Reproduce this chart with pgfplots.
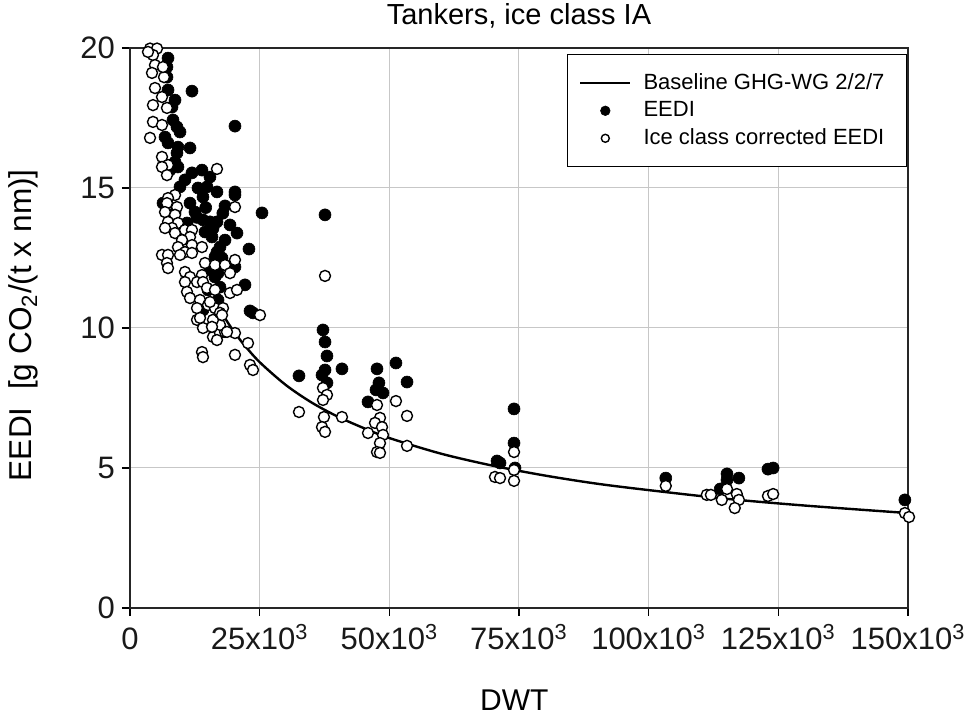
\documentclass[border=0pt]{standalone}
\usepackage{fontspec}
\setmainfont{Liberation Sans}
\usepackage{pgfplots}
\usepackage{pgfplotstable}
\pgfplotsset{compat=1.18}

\pgfplotstableread{
x y
7.33 19.64
7.13 19.32
7.13 18.96
11.95 18.46
8.68 18.14
8.10 17.89
8.29 17.43
9.06 17.18
9.64 17.00
6.75 16.82
7.33 16.61
11.57 16.43
9.06 16.25
8.68 15.93
11.95 15.54
13.88 15.64
15.42 15.39
9.64 15.04
13.11 15.00
14.85 15.04
16.77 14.86
20.24 14.86
20.24 14.75
6.36 14.46
11.57 14.46
14.07 14.68
18.32 14.36
25.45 14.11
14.07 13.86
15.42 13.79
16.77 13.79
19.28 13.68
20.63 13.39
8.68 14.11
20.24 17.21
10.99 13.75
22.94 12.82
17.35 12.89
16.77 12.71
17.74 12.50
20.24 12.18
16.39 11.82
16.97 11.96
22.17 11.54
16.97 11.00
23.14 10.61
23.71 10.54
8.29 13.96
15.81 13.25
16.39 12.54
17.35 11.46
14.07 10.64
9.64 13.39
7.33 18.50
9.25 16.46
9.25 15.75
7.71 15.64
10.60 15.29
12.53 14.14
14.46 13.43
15.42 12.07
18.32 13.14
15.04 11.36
14.60 14.30
17.90 14.10
12.90 13.95
16.00 13.55
37.60 14.04
37.21 9.93
37.60 9.50
37.98 9.00
37.60 8.50
37.02 8.32
37.98 8.04
32.58 8.29
40.87 8.54
47.62 8.54
51.28 8.75
53.41 8.07
48.00 8.04
47.43 7.79
48.78 7.68
45.89 7.36
74.04 7.11
74.04 5.89
70.76 5.25
71.34 5.18
74.23 5.00
103.3 4.64
115.1 4.79
117.4 4.64
113.8 4.25
115.1 4.57
123.0 4.96
124.0 5.00
149.4 3.86
}\eedi

\pgfplotstableread{
x y
3.86 19.98
5.21 19.98
4.43 19.75
3.47 19.86
4.82 19.39
4.24 19.11
6.56 18.96
6.36 19.32
4.82 18.57
6.17 18.25
4.43 17.96
7.13 17.86
4.43 17.36
6.17 17.25
3.86 16.79
6.17 16.11
7.33 15.82
6.17 15.75
7.13 15.46
16.77 15.68
8.68 14.75
7.33 14.64
7.13 14.46
9.06 14.32
6.75 14.14
8.68 14.04
7.33 13.79
9.25 13.75
8.10 13.57
8.68 13.39
6.75 13.57
10.60 13.50
11.95 13.50
11.57 13.25
10.03 13.14
9.25 12.89
11.95 12.96
13.88 12.89
6.17 12.61
7.33 12.61
7.13 12.32
7.33 12.14
10.60 12.71
9.64 12.61
11.95 12.68
14.46 12.32
16.39 12.25
18.32 12.25
10.60 12.00
11.57 11.82
13.88 11.89
10.60 11.64
12.92 11.64
14.07 11.64
10.99 11.29
11.57 11.07
14.85 11.43
16.39 11.36
13.50 11.00
12.92 10.71
15.04 10.82
16.39 10.71
17.93 10.71
19.28 11.25
20.63 11.36
20.24 14.32
20.24 12.43
19.28 11.96
25.06 10.46
20.24 9.82
22.75 9.46
13.88 9.14
14.07 8.96
20.24 9.04
23.14 8.68
23.71 8.50
12.92 10.29
14.07 10.00
16.00 9.68
17.35 9.82
16.77 9.57
18.32 9.86
17.35 10.11
16.00 10.29
17.35 10.54
15.42 10.93
17.74 10.46
13.50 10.36
15.81 10.04
18.70 9.86
37.60 11.86
37.21 7.86
37.98 7.61
37.21 7.43
37.40 6.82
37.02 6.46
37.60 6.29
32.58 7.00
40.87 6.82
47.62 7.25
48.20 6.79
47.24 6.61
45.89 6.25
48.59 6.46
48.78 6.18
48.20 5.89
47.62 5.57
48.20 5.54
51.28 7.39
53.41 6.86
53.41 5.79
74.04 5.57
70.37 4.68
71.34 4.64
74.04 4.93
74.04 4.54
103.3 4.36
111.2 4.04
112.0 4.04
114.1 3.86
115.1 4.25
117.0 4.07
117.4 3.86
116.6 3.57
123.0 4.00
124.0 4.07
149.4 3.39
150.2 3.25
}\corrected

\pgfplotstableread{
x y
17 10.77
18.5 10.30
20 9.88
22 9.40
25 8.78
30 7.97
35 7.34
40 6.84
45 6.43
50 6.07
60 5.51
70 5.08
80 4.73
90 4.44
100 4.21
115 3.90
130 3.66
150 3.39
}\baseline

\begin{document}
\begin{tikzpicture}
\begin{axis}[
  at={(0,0)}, anchor=south west,
  scale only axis, width=389pt, height=280pt,
  xmin=0, xmax=150, ymin=0, ymax=20,
  clip=false,
  axis line style={line width=0.8pt, black!85},
  xtick={0,25,50,75,100,125,150},
  xticklabels={0, 25x10\textsuperscript{3}, 50x10\textsuperscript{3}, 75x10\textsuperscript{3}, 100x10\textsuperscript{3}, 125x10\textsuperscript{3}, 150x10\textsuperscript{3}},
  ytick={0,5,10,15,20},
  /pgf/number format/assume math mode=true,
  tick align=outside, xtick pos=left, ytick pos=left,
  major tick length=4pt, tick style={line width=0.6pt, black},
  grid=major, major grid style={line width=0.5pt, color=black!22},
  ticklabel style={font=\fontsize{15.5}{18}\selectfont, black!90},
  xticklabel style={anchor=base, yshift=-17pt},
  title={Tankers, ice class IA},
  title style={at={(0.5,1)}, anchor=base, yshift=5.5pt, font=\fontsize{14.5}{17}\selectfont},
  xlabel={DWT},
  xlabel style={at={(0.494,-0.164)}, anchor=center, font=\fontsize{15}{18}\selectfont},
  ylabel={EEDI\ \ [g CO\textsubscript{2}/(t x nm)]},
  ylabel style={at={(-0.137,0.505)}, anchor=center, font=\fontsize{15.8}{19}\selectfont},
  legend cell align=left,
  legend style={at={(0.9987,0.989)}, anchor=north east, draw=black, line width=0.6pt,
    font=\fontsize{11}{13}\selectfont, inner xsep=6pt, inner ysep=7.5pt, row sep=0.5pt,
    column sep=4pt},
]
\addplot[black, line width=1.2pt, smooth,
  legend image code/.code={\draw[black, line width=1.2pt] (0pt,0pt) -- (25pt,0pt);}]
  table[x=x, y=y] {\baseline};
\addlegendentry{Baseline GHG-WG 2/2/7}
\addplot[only marks, mark=*, mark size=3pt, draw=black, fill=black, line width=0.3pt,
  legend image code/.code={\draw[mark size=2.4pt, mark repeat=2, mark phase=2] plot coordinates {(0pt,0pt) (12.5pt,0pt) (25pt,0pt)};}]
  table[x=x, y=y] {\eedi};
\addlegendentry{EEDI}
\addplot[only marks, mark=*, mark size=2.75pt, draw=black, fill=white, line width=0.7pt,
  legend image code/.code={\draw[mark size=2pt, mark repeat=2, mark phase=2] plot coordinates {(0pt,0pt) (12.5pt,0pt) (25pt,0pt)};}]
  table[x=x, y=y] {\corrected};
\addlegendentry{Ice class corrected EEDI\rule{3pt}{0pt}}
\end{axis}
\pgfresetboundingbox
\path (-65pt,-57pt) rectangle (418pt,304pt);
\end{tikzpicture}
\end{document}
